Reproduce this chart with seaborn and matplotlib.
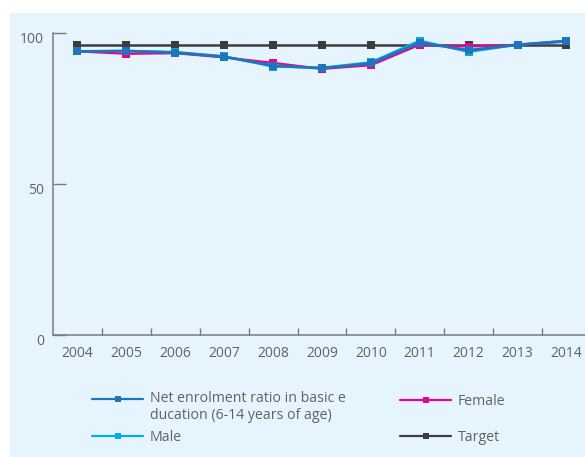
import numpy as np
import pandas as pd
import matplotlib
matplotlib.use("Agg")
import matplotlib.pyplot as plt
import matplotlib.transforms as mtransforms
from matplotlib.patches import Rectangle
from matplotlib.legend_handler import HandlerLine2D
import seaborn as sns

# Net enrolment in basic education, 2004-2014 (%)
years = ["2004", "2005", "2006", "2007", "2008", "2009", "2010",
         "2011", "2012", "2013", "2014"]
net_ratio = [94.0, 94.1, 93.6, 92.2, 89.3, 88.4, 90.0, 96.9, 94.4, 96.2, 97.4]
female = [94.0, 93.2, 93.4, 92.0, 90.2, 88.2, 89.4, 96.2, 95.6, 96.2, 97.3]
male = [94.0, 94.2, 93.8, 92.4, 88.9, 88.6, 90.4, 97.6, 93.8, 96.2, 97.6]
target = [96, 96, 96, 96, 96, 96, 96, 96, 96, 96, 96]

net_label = "Net enrolment ratio in basic e\nducation (6-14 years of age)"

sns.set_theme(style="white")
plt.rcParams["font.family"] = ["Open Sans", "DejaVu Sans"]

TEXT = "#606163"
AXIS = "#7a7b7d"
PANEL = "#e6f5fd"
C_NET = "#1f74bd"
C_FEMALE = "#ec008c"
C_MALE = "#00aeef"
C_TARGET = "#3c3c3e"

W, H = 585, 457
fig = plt.figure(figsize=(W / 100, H / 100), dpi=100, facecolor="white")
fig.patches.append(Rectangle((10 / W, 0), 1 - 10 / W, (H - 13) / H,
                             transform=fig.transFigure, facecolor=PANEL,
                             edgecolor="none", zorder=-10))

ax = fig.add_axes([53 / W, (H - 334.7) / H, 1 - 53 / W, (334.7 - 33.3) / H])
ax.set_facecolor("none")

df = pd.DataFrame({"year": years, "pos": np.arange(len(years)),
                   "net": net_ratio, "female": female, "male": male,
                   "target": target})

series = [("target", "Target", C_TARGET, 1.8),
          ("female", "Female", C_FEMALE, 1.6),
          ("male", "Male", C_MALE, 1.6),
          ("net", net_label, C_NET, 2.0)]
handles = {}
for col, lab, color, lw in series:
    sns.lineplot(data=df, x="pos", y=col, ax=ax, color=color, lw=lw,
                 marker="s", markersize=5.8, markeredgewidth=0,
                 label=lab, legend=False)
    handles[lab] = ax.get_lines()[-1]

ax.set_xlim(-0.5, (585 - 53) / 48.9 - 0.5)
ax.set_ylim(0, 100)
ax.set_xlabel("")
ax.set_ylabel("")

ax.set_xticks(df["pos"])
ax.set_xticklabels(years)
ax.set_xticks(np.arange(len(years) - 1) + 0.5, minor=True)
ax.tick_params(axis="x", which="major", length=0, pad=8.3,
               labelsize=10, labelcolor=TEXT)
ax.tick_params(axis="x", which="minor", direction="in", length=4.7,
               width=1.0, color=AXIS, bottom=True)
ax.set_yticks([0, 50, 100])
ax.tick_params(axis="y", which="major", direction="in", length=9.7,
               width=1.0, color=AXIS, pad=6.3, labelsize=10,
               labelcolor=TEXT, left=True)

shift = mtransforms.ScaledTranslation(0, -4.5 / 100, fig.dpi_scale_trans)
for lbl in ax.get_yticklabels():
    lbl.set_transform(lbl.get_transform() + shift)

for side in ["top", "right"]:
    ax.spines[side].set_visible(False)
for side in ["left", "bottom"]:
    ax.spines[side].set_color(AXIS)
    ax.spines[side].set_linewidth(1.1)


class RaisedLine(HandlerLine2D):
    """Line handler that lifts the sample to the first line of a two-line label."""

    def __init__(self, lift, **kw):
        super().__init__(**kw)
        self.lift = lift

    def create_artists(self, legend, orig_handle, xdescent, ydescent,
                       width, height, fontsize, trans):
        artists = super().create_artists(legend, orig_handle, xdescent,
                                         ydescent, width, height, fontsize,
                                         trans)
        for a in artists:
            a.set_ydata(np.asarray(a.get_ydata(), dtype=float) + self.lift)
        return artists


common = dict(frameon=False, fontsize=10.2, labelcolor=TEXT, numpoints=1,
              handlelength=3.6, handletextpad=0.5, borderpad=0,
              borderaxespad=0, markerscale=0.8)

leg1 = fig.legend([handles[net_label], handles["Male"]], [net_label, "Male"],
                  loc="upper left", bbox_to_anchor=(92 / W, (H - 391) / H),
                  labelspacing=0.5,
                  handler_map={handles[net_label]: RaisedLine(6.5)},
                  **common)
leg2 = fig.legend([handles["Female"], handles["Target"]], ["Female", "Target"],
                  loc="upper left", bbox_to_anchor=(400 / W, (H - 394) / H),
                  labelspacing=1.5, **common)
for leg in (leg1, leg2):
    for ln in leg.get_lines():
        ln.set_linewidth(1.6)

fig.savefig("out.png", dpi=100, facecolor="white")
